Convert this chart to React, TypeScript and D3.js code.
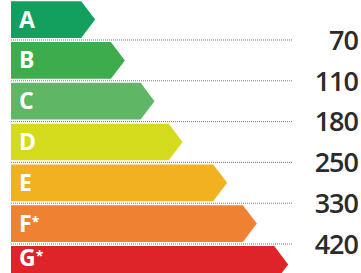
import React, { useRef, useEffect } from 'react';
import * as d3 from 'd3';

// energy classes, top to bottom
const classes = ['A', 'B', 'C', 'D', 'E', 'F', 'G'];
const classMarks = ['', '', '', '', '', '*', '*'];
const classColors = ['#13a05f', '#3cac4c', '#5fb766', '#d3db1c', '#f1b121', '#ef8232', '#df2429'];
// arrow length of each class, percent of the usable width
const arrowLength = [25.5, 34.5, 43.5, 52, 65.5, 74.5, 84];
// thresholds shown at the boundaries between classes
const thresholds = ['70', '110', '180', '250', '330', '420'];

const W = 361;
const H = 273;

const App: React.FC = () => {
  const svgRef = useRef<SVGSVGElement>(null);

  useEffect(() => {
    if (!svgRef.current) return;
    const svg = d3.select(svgRef.current);
    svg.selectAll('*').remove();

    const y = d3.scaleBand<string>()
      .domain(classes)
      .range([0, 284])
      .paddingInner(0.1)
      .paddingOuter(0.03);

    const x = d3.scaleLinear().domain([0, 100]).range([11, 341]);

    const boundary = (i: number) => (y(classes[i])! + y.bandwidth() + y(classes[i + 1])!) / 2;

    // dotted separators
    svg.append('g')
      .selectAll('line')
      .data(thresholds)
      .join('line')
      .attr('x1', x(0))
      .attr('x2', 292)
      .attr('y1', (d, i) => boundary(i))
      .attr('y2', (d, i) => boundary(i))
      .attr('stroke', '#7a7a7a')
      .attr('stroke-width', 1)
      .attr('stroke-dasharray', '1,1');

    // arrows
    const bh = y.bandwidth();
    const tip = bh * 0.38;
    svg.append('g')
      .selectAll('path')
      .data(classes)
      .join('path')
      .attr('d', (d, i) => {
        const y0 = y(d)!;
        const x0 = x(0);
        const x1 = x(arrowLength[i]);
        return `M${x0},${y0}L${x1 - tip},${y0}L${x1},${y0 + bh / 2}L${x1 - tip},${y0 + bh}L${x0},${y0 + bh}Z`;
      })
      .attr('fill', (d, i) => classColors[i]);

    // class letters (last one kept inside the frame)
    const letters = svg.append('g')
      .selectAll('text')
      .data(classes)
      .join('text')
      .attr('x', 19)
      .attr('y', d => Math.min(y(d)! + bh / 2 + 8, H - 7))
      .attr('fill', '#ffffff')
      .style('font-family', '"Open Sans", sans-serif')
      .style('font-weight', 700)
      .style('font-size', '23px');
    letters.append('tspan').text(d => d);
    letters.append('tspan')
      .attr('dy', '-0.35em')
      .style('font-size', '14px')
      .text((d, i) => classMarks[i]);

    // threshold values
    svg.append('g')
      .selectAll('text')
      .data(thresholds)
      .join('text')
      .attr('x', 358)
      .attr('y', (d, i) => boundary(i))
      .attr('dy', '0.36em')
      .attr('text-anchor', 'end')
      .attr('fill', '#2b2b2b')
      .style('font-family', '"Open Sans", sans-serif')
      .style('font-weight', 600)
      .style('font-size', '27px')
      .style('letter-spacing', '-1px')
      .text(d => d);
  }, []);

  return (
    <svg
      ref={svgRef}
      width={W}
      height={H}
      style={{ position: 'absolute', left: 0, top: 0, background: '#ffffff' }}
    />
  );
};

export default App;
